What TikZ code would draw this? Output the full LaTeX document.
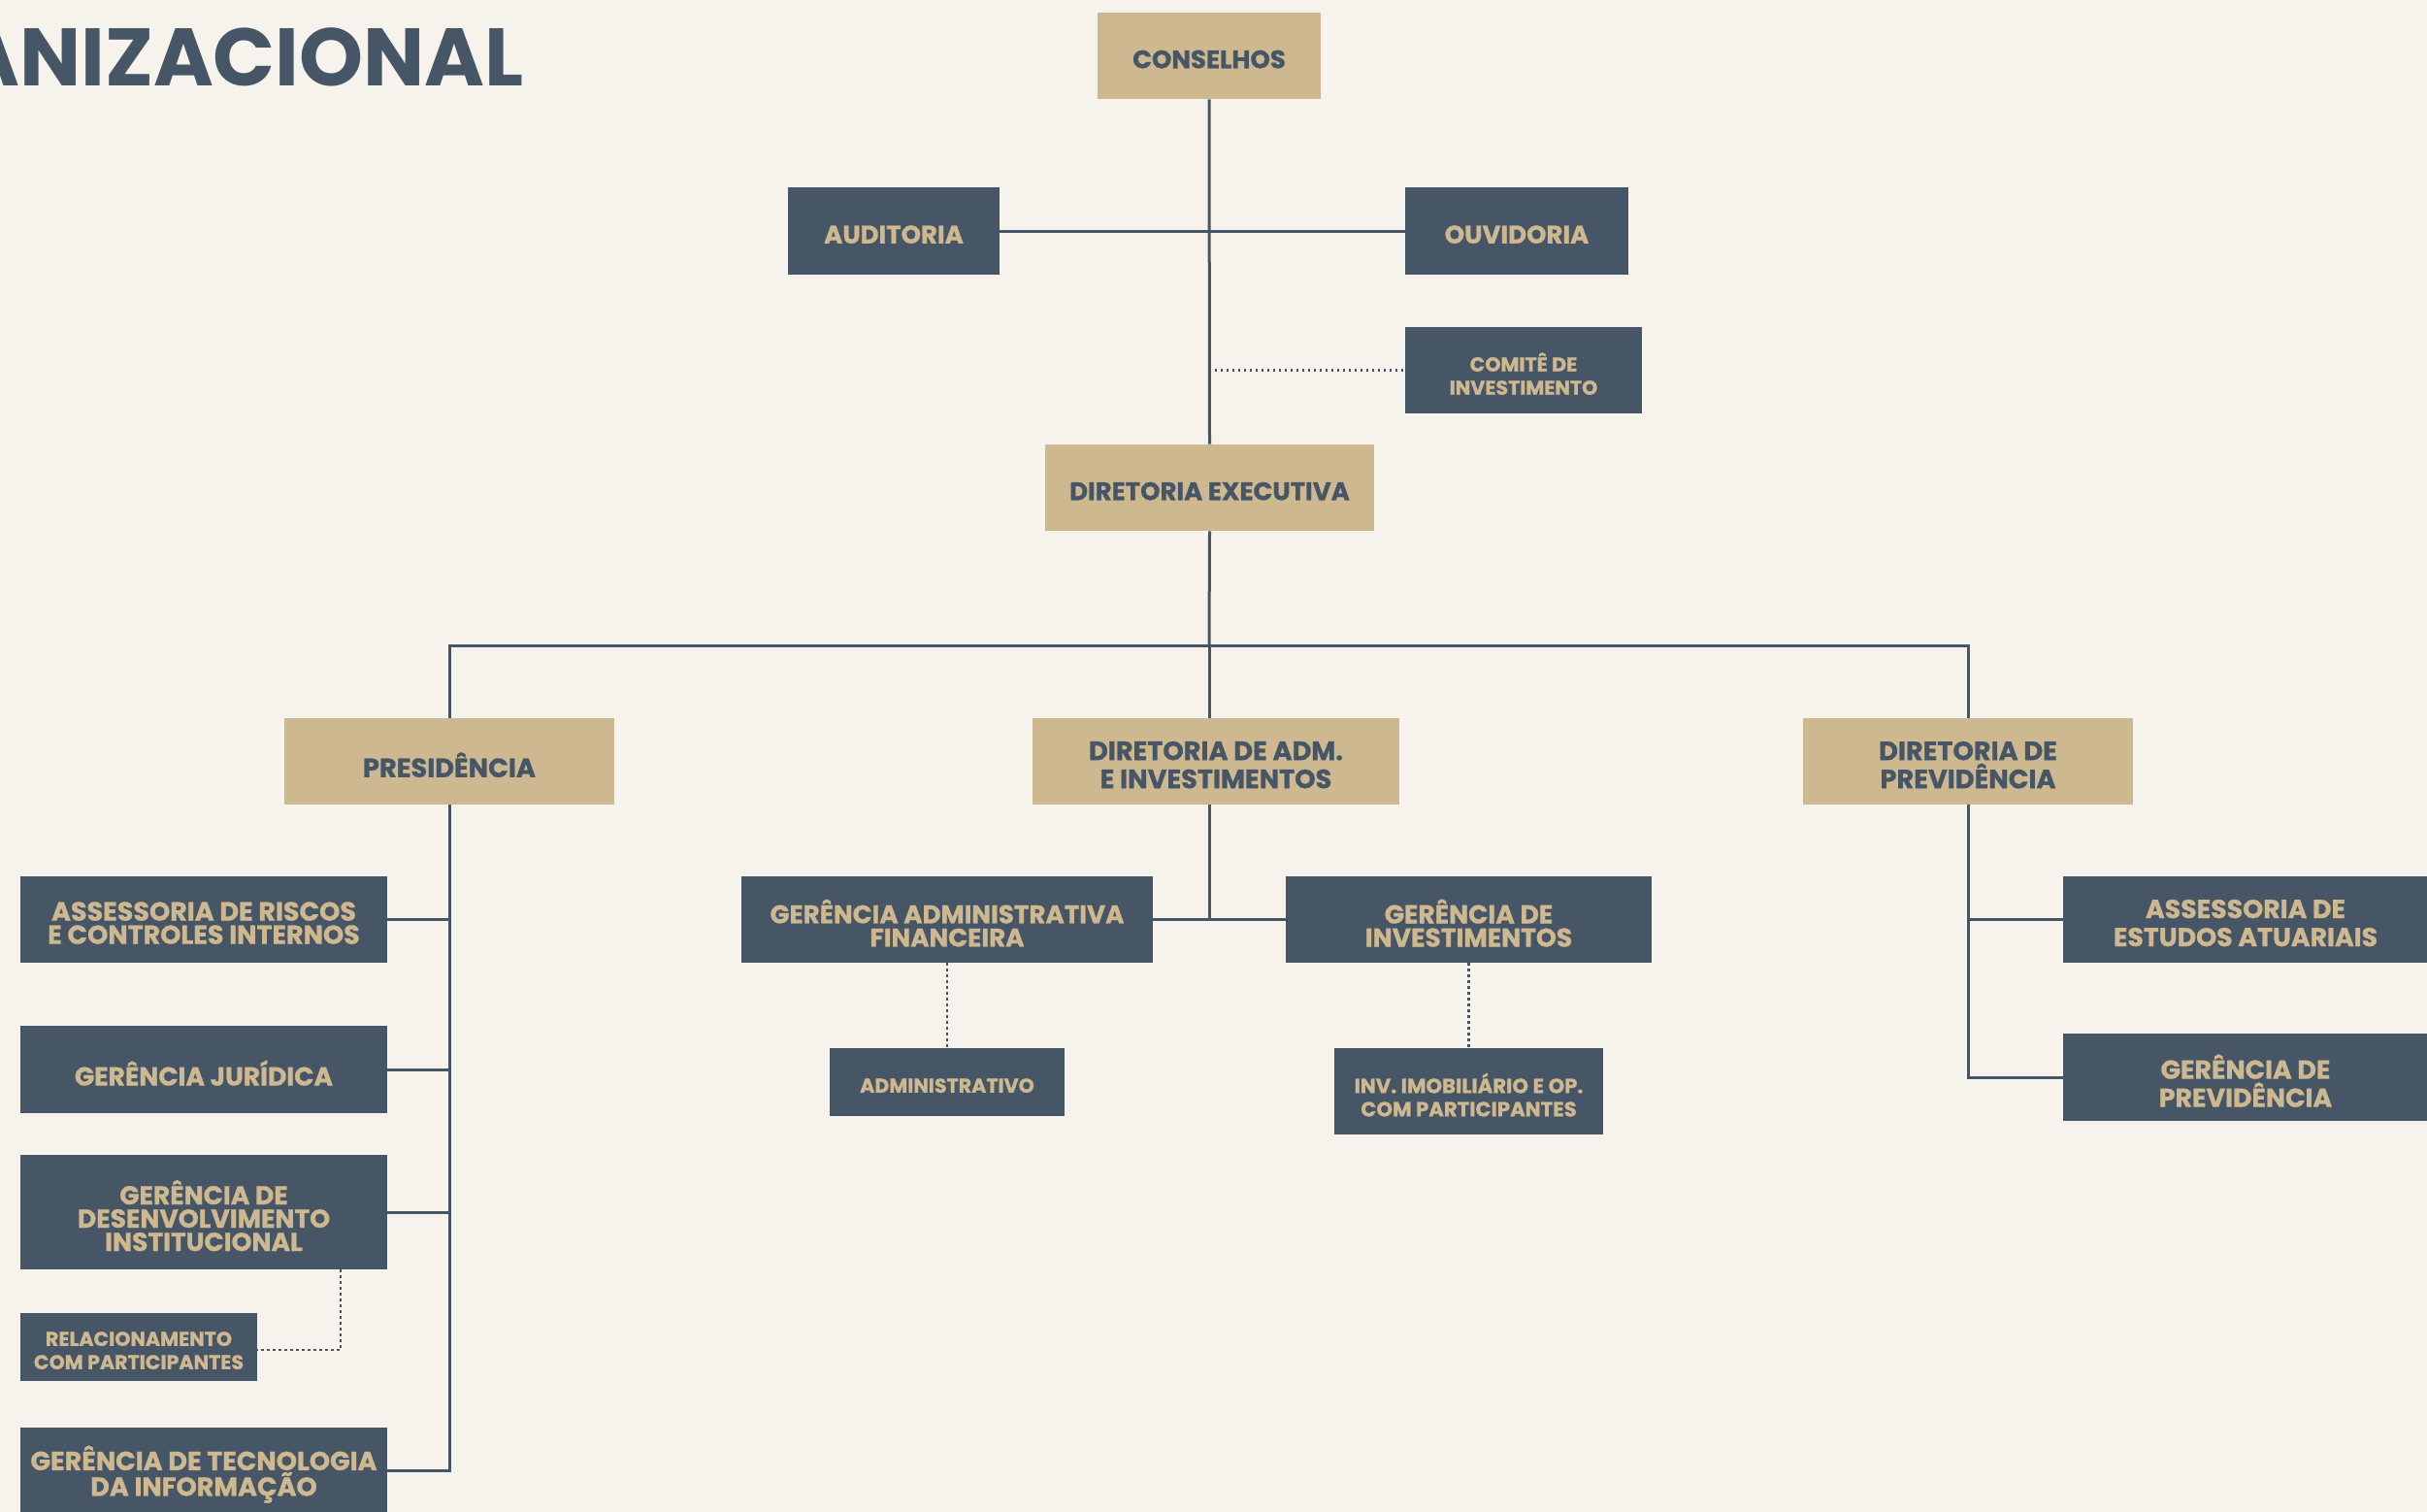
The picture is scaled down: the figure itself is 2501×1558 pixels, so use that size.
\documentclass[tikz,border=0pt]{standalone}
\usepackage{fontspec}
\setmainfont{Poppins}[BoldFeatures={FakeBold=0.9}]
\newfontfamily\titlefont{Poppins}
\definecolor{bgc}{HTML}{F6F3EC}
\definecolor{dark}{HTML}{475666}
\definecolor{tan}{HTML}{CEB88F}
\newcommand{\fs}[2]{\bfseries\fontsize{#1}{#2}\selectfont}
\begin{document}
\begin{tikzpicture}[x=0.5pt,y=-0.5pt,
  box/.style={rectangle, inner sep=0pt, minimum height=44.5pt},
  lab/.style={inner sep=0pt, align=center, yshift=-1.8pt},
  dk/.style={box, fill=dark},
  lt/.style={box, fill=tan},
  txt/.style n args={3}{label={[lab, text=tan, font=\fs{#1}{#2}]center:{#3}}},
  ttxt/.style n args={3}{label={[lab, text=dark, font=\fs{#1}{#2}]center:{#3}}},
  conn/.style={draw=dark, line width=1.5pt},
  dotl/.style={draw=dark, line width=1.3pt, dash pattern=on 1.2pt off 1.8pt}]
\fill[bgc] (0,0) rectangle (2501,1558);
\useasboundingbox (0,0) rectangle (2501,1558);
\clip (0,0) rectangle (2501,1558);

\node[anchor=base east, text=dark, font=\titlefont\bfseries\fontsize{42}{46}\selectfont] (title) at (547,88) {ANIZACIONAL};

\node[lt, minimum width=115pt, ttxt={13}{14}{CONSELHOS}] (cons) at (1246,57.5) {};
\node[dk, minimum width=109pt, minimum height=45pt, txt={13}{14}{AUDITORIA}] (aud) at (921,238) {};
\node[dk, minimum width=115pt, minimum height=45pt, txt={13}{14}{OUVIDORIA}] (ouv) at (1563,238) {};
\node[dk, minimum width=122pt, txt={10.3}{12}{COMITÊ DE\\INVESTIMENTO}] (com) at (1570,381.5) {};
\node[lt, minimum width=169.5pt, ttxt={13}{14}{DIRETORIA EXECUTIVA}] (dexec) at (1246.5,502.5) {};

\node[lt, minimum width=170pt, ttxt={13.6}{14.5}{PRESIDÊNCIA}] (pres) at (463,784.5) {};
\node[lt, minimum width=189pt, ttxt={13.6}{14.5}{DIRETORIA DE ADM.\\E INVESTIMENTOS}] (dadm) at (1253,784.5) {};
\node[lt, minimum width=170pt, ttxt={13.6}{14.5}{DIRETORIA DE\\PREVIDÊNCIA}] (dprev) at (2028,784.5) {};

\node[dk, minimum width=189pt, txt={13.5}{12}{ASSESSORIA DE RISCOS\\E CONTROLES INTERNOS}] (assr) at (210,947.5) {};
\node[dk, minimum width=189pt, minimum height=45pt, txt={13.3}{12}{GERÊNCIA JURÍDICA}] (gj) at (210,1102) {};
\node[dk, minimum width=189pt, minimum height=59pt, txt={13.3}{12}{GERÊNCIA DE\\DESENVOLVIMENTO\\INSTITUCIONAL}] (gdi) at (210,1249) {};
\node[dk, minimum width=122pt, minimum height=35pt, txt={10.3}{12}{RELACIONAMENTO\\COM PARTICIPANTES}] (rel) at (143,1388) {};
\node[dk, minimum width=189pt, txt={13.5}{12}{GERÊNCIA DE TECNOLOGIA\\DA INFORMAÇÃO}] (gti) at (210,1515.5) {};

\node[dk, minimum width=212pt, txt={13.1}{12}{GERÊNCIA ADMINISTRATIVA\\FINANCEIRA}] (gaf) at (976,947.5) {};
\node[dk, minimum width=188.5pt, txt={13.3}{12}{GERÊNCIA DE\\INVESTIMENTOS}] (gi) at (1513.5,947.5) {};
\node[dk, minimum width=121pt, minimum height=35pt, txt={10.3}{12}{ADMINISTRATIVO}] (adm) at (976,1115) {};
\node[dk, minimum width=138.5pt, txt={10.6}{12}{INV. IMOBILIÁRIO E OP.\\COM PARTICIPANTES}] (inv) at (1513.5,1124.5) {};

\node[dk, minimum width=188pt, txt={13.4}{14.5}{ASSESSORIA DE\\ESTUDOS ATUARIAIS}] (ase) at (2314,947.5) {};
\node[dk, minimum width=188pt, minimum height=45pt, txt={13.4}{14.5}{GERÊNCIA DE\\PREVIDÊNCIA}] (gp) at (2314,1110) {};

% top trunk
\draw[conn] (cons.south) -- (dexec.north);
\draw[conn] (aud.east) -- (ouv.west);
\draw[dotl] (cons.south |- com.west) -- (com.west);
% bus
\coordinate (busc) at (1246,665);
\draw[conn] (dexec.south) -- (busc);
\draw[conn] (pres.north) -- (pres.north |- busc) -- (dprev.north |- busc) -- (dprev.north);
\draw[conn] (busc) -- (busc |- dadm.north);
% presidencia branch
\draw[conn] (pres.south) -- (pres.south |- gti.east) -- (gti.east);
\draw[conn] (assr.east) -- (pres.south |- assr.east);
\draw[conn] (gj.east) -- (pres.south |- gj.east);
\draw[conn] (gdi.east) -- (pres.south |- gdi.east);
\coordinate (relc) at (351,1391);
\draw[dotl] (gdi.south -| relc) -- (relc) -- (rel.east |- relc);
% diretoria adm branch
\draw[conn] (gaf.east) -- (gi.west);
\draw[conn] (busc |- dadm.south) -- (busc |- gaf.east);
\draw[dotl] (gaf.south) -- (adm.north);
\draw[dotl] (gi.south) -- (inv.north);
% previdencia branch
\draw[conn] (dprev.south) -- (dprev.south |- gp.west) -- (gp.west);
\draw[conn] (ase.west) -- (dprev.south |- ase.west);
\end{tikzpicture}
\end{document}
